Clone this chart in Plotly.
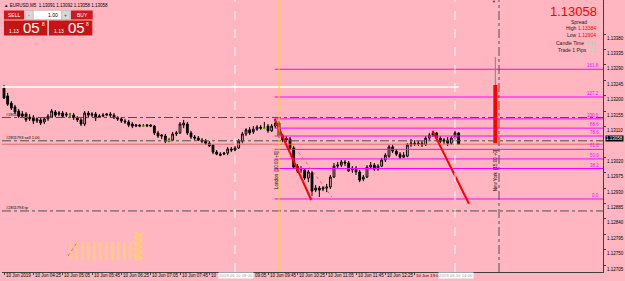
import plotly.graph_objects as go
import pandas as pd

# ---------------- data ----------------
times = pd.date_range("2019-06-10 03:45", periods=125, freq="5min")

opens = [1.13222,1.13199,1.13178,1.13167,1.13155,1.13140,1.13146,1.13132,1.13137,1.13126,
         1.13129,1.13123,1.13132,1.13137,1.13152,1.13146,1.13149,1.13143,1.13143,1.13143,
         1.13135,1.13129,1.13117,1.13149,1.13143,1.13146,1.13137,1.13140,1.13143,1.13146,
         1.13143,1.13135,1.13132,1.13126,1.13123,1.13117,1.13111,1.13114,1.13111,1.13111,
         1.13114,1.13111,1.13091,1.13085,1.13082,1.13070,1.13070,1.13088,1.13091,1.13114,
         1.13117,1.13091,1.13079,1.13076,1.13070,1.13067,1.13061,1.13056,1.13035,1.13029,
         1.13029,1.13032,1.13044,1.13041,1.13047,1.13067,1.13088,1.13100,1.13094,1.13102,
         1.13108,1.13105,1.13111,1.13097,1.13111,1.13120,1.13082,1.13070,1.13073,1.13047,
         1.12994,1.12983,1.12983,1.12959,1.12974,1.12924,1.12930,1.12927,1.12930,1.12933,
         1.12962,1.12994,1.12997,1.13006,1.13003,1.12983,1.12988,1.12977,1.12956,1.12962,
         1.12991,1.12997,1.12985,1.12994,1.13012,1.13023,1.13050,1.13038,1.13029,1.13020,
         1.13023,1.13056,1.13061,1.13058,1.13061,1.13056,1.13076,1.13085,1.13091,1.13076,
         1.13067,1.13070,1.13061,1.13076,1.13091]
highs = [1.13231,1.13208,1.13184,1.13173,1.13161,1.13155,1.13152,1.13146,1.13143,1.13137,
         1.13135,1.13137,1.13146,1.13161,1.13158,1.13155,1.13155,1.13152,1.13149,1.13149,
         1.13140,1.13135,1.13155,1.13155,1.13152,1.13152,1.13146,1.13149,1.13149,1.13152,
         1.13149,1.13140,1.13137,1.13132,1.13129,1.13123,1.13117,1.13117,1.13117,1.13117,
         1.13117,1.13114,1.13097,1.13088,1.13088,1.13076,1.13094,1.13097,1.13123,1.13129,
         1.13123,1.13097,1.13085,1.13082,1.13076,1.13073,1.13067,1.13058,1.13041,1.13035,
         1.13035,1.13050,1.13050,1.13053,1.13073,1.13094,1.13105,1.13108,1.13111,1.13114,
         1.13114,1.13123,1.13117,1.13117,1.13132,1.13126,1.13088,1.13082,1.13079,1.13053,
         1.13000,1.12994,1.12988,1.12983,1.12980,1.12939,1.12936,1.12936,1.12942,1.12968,
         1.13003,1.13006,1.13012,1.13012,1.13009,1.12994,1.12994,1.12983,1.12968,1.12997,
         1.13006,1.13003,1.13000,1.13018,1.13032,1.13056,1.13056,1.13044,1.13035,1.13035,
         1.13061,1.13073,1.13070,1.13067,1.13067,1.13082,1.13091,1.13097,1.13094,1.13082,
         1.13076,1.13079,1.13082,1.13097,1.13092]
lows = [1.13190,1.13170,1.13158,1.13146,1.13135,1.13135,1.13123,1.13126,1.13117,1.13120,
        1.13114,1.13117,1.13126,1.13135,1.13137,1.13140,1.13135,1.13137,1.13137,1.13129,
        1.13123,1.13111,1.13111,1.13137,1.13137,1.13126,1.13135,1.13137,1.13140,1.13137,
        1.13132,1.13126,1.13120,1.13117,1.13108,1.13105,1.13108,1.13108,1.13108,1.13108,
        1.13108,1.13085,1.13076,1.13073,1.13061,1.13064,1.13067,1.13082,1.13088,1.13105,
        1.13085,1.13073,1.13070,1.13067,1.13061,1.13056,1.13050,1.13029,1.13026,1.13023,
        1.13026,1.13026,1.13035,1.13038,1.13044,1.13061,1.13082,1.13085,1.13088,1.13097,
        1.13100,1.13102,1.13091,1.13094,1.13105,1.13076,1.13064,1.13064,1.13041,1.12985,
        1.12974,1.12974,1.12953,1.12947,1.12907,1.12918,1.12904,1.12921,1.12918,1.12927,
        1.12959,1.12988,1.12991,1.12994,1.12977,1.12974,1.12968,1.12947,1.12950,1.12959,
        1.12985,1.12980,1.12980,1.12991,1.13006,1.13018,1.13032,1.13023,1.13015,1.13018,
        1.13020,1.13050,1.13053,1.13053,1.13050,1.13053,1.13070,1.13079,1.13070,1.13061,
        1.13058,1.13053,1.13056,1.13070,1.13058]
closes = [1.13193,1.13175,1.13164,1.13152,1.13140,1.13146,1.13129,1.13137,1.13126,1.13132,
          1.13120,1.13132,1.13140,1.13155,1.13143,1.13149,1.13140,1.13146,1.13143,1.13135,
          1.13129,1.13117,1.13149,1.13143,1.13146,1.13135,1.13140,1.13143,1.13146,1.13143,
          1.13135,1.13132,1.13126,1.13123,1.13114,1.13111,1.13114,1.13111,1.13111,1.13114,
          1.13111,1.13091,1.13082,1.13082,1.13067,1.13070,1.13088,1.13091,1.13117,1.13120,
          1.13091,1.13079,1.13076,1.13070,1.13067,1.13061,1.13053,1.13035,1.13029,1.13026,
          1.13032,1.13044,1.13041,1.13047,1.13067,1.13088,1.13100,1.13091,1.13102,1.13108,
          1.13105,1.13105,1.13097,1.13111,1.13120,1.13082,1.13070,1.13076,1.13047,1.12991,
          1.12980,1.12985,1.12959,1.12977,1.12921,1.12930,1.12924,1.12930,1.12933,1.12962,
          1.12994,1.12997,1.13006,1.13003,1.12980,1.12988,1.12977,1.12953,1.12962,1.12991,
          1.12997,1.12985,1.12994,1.13012,1.13026,1.13050,1.13038,1.13029,1.13020,1.13026,
          1.13056,1.13061,1.13058,1.13061,1.13056,1.13076,1.13085,1.13091,1.13076,1.13067,
          1.13070,1.13061,1.13076,1.13091,1.13058]

fib_levels = [1.12898, 1.12987, 1.13015, 1.13043, 1.13082, 1.13105, 1.13132, 1.13196, 1.13277]
fib_labels = ["0.0", "38.2", "50.0", "61.8", "78.6", "88.6", "100.0", "127.2", "161.8"]
fib_start = "2019-06-10 09:54"

order_levels = [1.13136, 1.13068, 1.12863]
order_labels = ["#2811793 sl", "#2811793 sell 1.00", "#2811793 tp"]

white_level = 1.13225
white_end = "2019-06-10 14:05"
bid = 1.13058

trend1_x = ["2019-06-10 09:54", "2019-06-10 10:44"]
trend1_y = [1.13132, 1.12895]
trend_dot_x = ["2019-06-10 10:12", "2019-06-10 11:12"]
trend_dot_y = [1.13076, 1.12904]
trend2_x = ["2019-06-10 13:29:30", "2019-06-10 14:19"]
trend2_y = [1.13097, 1.12884]

daybar_x = "2019-06-10 14:55"
daybar_body = [1.13061, 1.13231]
daybar_wick = [1.13231, 1.13313]

# time-axis labels (left-aligned at their tick, as the terminal draws them);
# labels partly covered by the highlighted time boxes keep only their visible part
xtick_times = pd.date_range("2019-06-10 03:45", periods=16, freq="40min")
xlabel_times = ["2019-06-10 03:45", "2019-06-10 04:25", "2019-06-10 05:05", "2019-06-10 05:45",
                "2019-06-10 06:25", "2019-06-10 07:05", "2019-06-10 07:45", "2019-06-10 08:25",
                "2019-06-10 09:25", "2019-06-10 09:45", "2019-06-10 10:25", "2019-06-10 11:05",
                "2019-06-10 11:45", "2019-06-10 12:25", "2019-06-10 13:05"]
xlabel_text = ["10 Jun 2019", "10 Jun 04:25", "10 Jun 05:05", "10 Jun 05:45", "10 Jun 06:25",
               "10 Jun 07:05", "10 Jun 07:45", "10", "09:05", "10 Jun 09:45", "10 Jun 10:25",
               "10 Jun 11:05", "10 Jun 11:45", "10 Jun 12:25", "10 Jun 13:0"]

ytick_vals = [1.12705, 1.12750, 1.12795, 1.12840, 1.12885, 1.12930, 1.12975, 1.13020,
              1.13110, 1.13155, 1.13200, 1.13245, 1.13290, 1.13335, 1.13380]

x_range = ["2019-06-10 03:42:16", "2019-06-10 17:21:49"]
y_range = [1.126846, 1.134794]

BG = "#FFB6C1"
FONT = "Liberation Sans"

# -------------- helpers for layout positions (pixels -> paper) --------------
def PX(x):
    return (x - 2) / 601.0

def PY(y):
    return 1 - y / 272.0

fig = go.Figure()

# vertical session lines
fig.add_vline(x="2019-06-10 09:00", line=dict(color="white", width=1, dash="dash"))
fig.add_vline(x="2019-06-10 14:00", line=dict(color="white", width=1, dash="dash"))
fig.add_vline(x="2019-06-10 10:00", line=dict(color="#FFD700", width=1))
fig.add_vline(x="2019-06-10 15:00", line=dict(color="#505050", width=1, dash="dashdot"))

# horizontal: white line
fig.add_trace(go.Scatter(x=[x_range[0], white_end], y=[white_level, white_level], mode="lines",
                         line=dict(color="white", width=1.5), hoverinfo="skip"))
# fib levels
for lv in fib_levels:
    fig.add_trace(go.Scatter(x=[fib_start, x_range[1]], y=[lv, lv], mode="lines",
                             line=dict(color="#FF00FF", width=1), hoverinfo="skip"))
# order lines
for lv in order_levels:
    fig.add_trace(go.Scatter(x=x_range, y=[lv, lv], mode="lines",
                             line=dict(color="#505050", width=1, dash="dashdot"), hoverinfo="skip"))
# bid line
fig.add_trace(go.Scatter(x=x_range, y=[bid, bid], mode="lines",
                         line=dict(color="#E06A6A", width=1), hoverinfo="skip"))

# candles
fig.add_trace(go.Candlestick(
    x=times, open=opens, high=highs, low=lows, close=closes,
    increasing=dict(line=dict(color="black", width=1), fillcolor=BG),
    decreasing=dict(line=dict(color="black", width=1), fillcolor="black"),
    whiskerwidth=0, hoverinfo="skip"))

doji_x = [t for t, o, c in zip(times, opens, closes) if o == c]
doji_y = [c for o, c in zip(opens, closes) if o == c]
fig.add_trace(go.Scatter(x=doji_x, y=doji_y, mode="markers",
                         marker=dict(symbol="line-ew", size=3, line=dict(color="#7CFC00", width=1)),
                         hoverinfo="skip"))

# trend lines
fig.add_trace(go.Scatter(x=trend1_x, y=trend1_y, mode="lines", line=dict(color="#FF0000", width=2), hoverinfo="skip"))
fig.add_trace(go.Scatter(x=trend_dot_x, y=trend_dot_y, mode="lines", line=dict(color="#F06060", width=1, dash="dot"), hoverinfo="skip"))
fig.add_trace(go.Scatter(x=trend2_x, y=trend2_y, mode="lines", line=dict(color="#FF0000", width=2), hoverinfo="skip"))

# daily bar on the right
fig.add_trace(go.Scatter(x=[daybar_x, daybar_x], y=daybar_wick, mode="lines", line=dict(color="#808080", width=1), hoverinfo="skip"))
fig.add_trace(go.Scatter(x=[daybar_x, daybar_x], y=daybar_body, mode="lines", line=dict(color="#FF0000", width=4), hoverinfo="skip"))

shapes = []
annotations = []

# left gray border
shapes.append(dict(type="rect", xref="paper", yref="paper", x0=PX(0), x1=PX(2), y0=PY(281), y1=PY(0),
                   fillcolor="#8C8C8C", line=dict(width=0), layer="above"))

# bottom-left yellow dotted box
for yy in range(237, 261, 2):
    shapes.append(dict(type="line", xref="paper", yref="paper", x0=PX(69), x1=PX(136), y0=PY(yy), y1=PY(yy),
                       line=dict(color="#FFE23A", width=1, dash="dot")))
shapes.append(dict(type="rect", xref="paper", yref="paper", x0=PX(135), x1=PX(141), y0=PY(260), y1=PY(233),
                   fillcolor="rgba(255,226,58,0.35)", line=dict(color="#FFE23A", width=1, dash="dot")))
shapes.append(dict(type="line", xref="paper", yref="paper", x0=PX(68), x1=PX(78), y0=PY(256), y1=PY(241),
                   line=dict(color="#FF6070", width=1, dash="dot")))

# trading panel
red = "#D01A1A"
shapes.append(dict(type="rect", xref="paper", yref="paper", x0=PX(4), x1=PX(24), y0=PY(19.5), y1=PY(10.5),
                   fillcolor=red, line=dict(width=0), layer="above"))
shapes.append(dict(type="rect", xref="paper", yref="paper", x0=PX(25), x1=PX(33.3), y0=PY(19.5), y1=PY(10.5),
                   fillcolor="#D8D8D8", line=dict(color="#B0B0B0", width=0.5), layer="above"))
shapes.append(dict(type="rect", xref="paper", yref="paper", x0=PX(33.3), x1=PX(61.7), y0=PY(19.5), y1=PY(10.5),
                   fillcolor="white", line=dict(color="#B0B0B0", width=0.5), layer="above"))
shapes.append(dict(type="rect", xref="paper", yref="paper", x0=PX(61.7), x1=PX(70), y0=PY(19.5), y1=PY(10.5),
                   fillcolor="#D8D8D8", line=dict(color="#B0B0B0", width=0.5), layer="above"))
shapes.append(dict(type="rect", xref="paper", yref="paper", x0=PX(71), x1=PX(92.7), y0=PY(19.5), y1=PY(10.5),
                   fillcolor=red, line=dict(width=0), layer="above"))
for x0, x1 in [(4, 47.3), (49, 92.3)]:
    shapes.append(dict(type="rect", xref="paper", yref="paper", x0=PX(x0), x1=PX(x1), y0=PY(35.5), y1=PY(20.5),
                       fillcolor="#C41414", line=dict(width=0), layer="above"))

def txt(x, y, s, size, color="black", xanchor="left", yanchor="middle", bg=None, xref="paper", yref="paper", **kw):
    d = dict(x=x, y=y, xref=xref, yref=yref, text=s, showarrow=False, xanchor=xanchor, yanchor=yanchor,
             font=dict(family=FONT, size=size, color=color), borderpad=0)
    if bg:
        d["bgcolor"] = bg
    d.update(kw)
    annotations.append(d)

txt(PX(3), PY(5), "▲ EURUSD,M5  1.13091 1.13092 1.13058 1.13058", 4.5)
txt(PX(14), PY(15), "SELL", 5, "white", xanchor="center")
txt(PX(29.2), PY(15), "-", 5, "#404040", xanchor="center")
txt(PX(59), PY(15), "1.00", 5, "black", xanchor="right")
txt(PX(65.8), PY(15), "+", 5, "#404040", xanchor="center")
txt(PX(82), PY(15), "BUY", 5, "white", xanchor="center")
for bx in [4, 49]:
    txt(PX(bx + 4), PY(30.5), "1.13", 5, "white")
    txt(PX(bx + 18), PY(28), "05", 15, "white")
    txt(PX(bx + 36.5), PY(23.5), "8", 5, "white")

# top right info
txt(PX(598), PY(12), "1.13058", 13, "#FF0000", xanchor="right")
info = [("Spread", "0.0", "#8FE0B0", 21.5), ("High", "1.13384", "#FF0000", 28.5), ("Low", "1.12904", "#FF0000", 35.5),
        ("Candle Time", "0:45", "#8FE0B0", 42.5), ("Trade 1 Pips", "1.2", "#8FE0B0", 49.5)]
for lab, val, col, yy in info:
    w = len(val) * 2.4
    txt(PX(597 - w - 2), PY(yy), lab, 5, "#202020", xanchor="right")
    txt(PX(597), PY(yy), val, 5, col, xanchor="right")
txt(PX(494), PY(1.5), "▼", 4, "#A00000", xanchor="center")

# fib labels
for lv, lab in zip(fib_levels, fib_labels):
    txt(PX(600), lv, lab, 4.5, "#FF00FF", xanchor="right", yanchor="bottom", yref="y")
# order labels
for lv, lab in zip(order_levels, order_labels):
    txt(PX(5), lv, lab, 4, "black", xanchor="left", yanchor="bottom", yref="y")

# session names
txt("2019-06-10 09:56", PY(170), "London  [10:00 +0]", 4.5, "black", xanchor="center", xref="x", textangle=-90)
txt("2019-06-10 14:55", PY(170), "New York  [15:00 +0]", 4.5, "black", xanchor="center", xref="x", textangle=-90)

# x labels
for t, s in zip(xlabel_times, xlabel_text):
    if s == "09:05":
        txt(PX(254), PY(275.5), s, 4.5, "black", xanchor="left")
    else:
        txt(t, PY(275.5), s, 4.3 if s == "10 Jun 13:0" else 4.5, "black", xanchor="left", xref="x", xshift=0.5)
# highlighted time boxes
for t, s in [("2019-06-10 09:00", "2019.06.10 09:00"), ("2019-06-10 14:00", "2019.06.10 14:00")]:
    txt(t, PY(275.5), s, 4.3, "#A0A0A0", xanchor="center", xref="x", bg="white", xshift=1)
# current price box
txt(PX(614.5), bid, "1.13058", 4.5, "white", xanchor="center", yref="y", bg="black", yshift=6)

fig.update_layout(
    width=625, height=281, margin=dict(l=2, r=22, t=0, b=9),
    paper_bgcolor=BG, plot_bgcolor=BG, showlegend=False,
    shapes=shapes, annotations=annotations,
    xaxis=dict(type="date", range=x_range, rangeslider=dict(visible=False), showgrid=False, zeroline=False,
               showline=True, linecolor="#404040", linewidth=1, tickvals=list(xtick_times), ticks="outside",
               ticklen=2, tickcolor="#404040", showticklabels=False),
    yaxis=dict(range=y_range, side="right", showgrid=False, zeroline=False, showline=True,
               linecolor="#404040", linewidth=1, tickvals=ytick_vals,
               ticktext=[f"{v:.5f}" for v in ytick_vals], ticks="outside", ticklen=2, tickcolor="#404040",
               tickfont=dict(family=FONT, size=4.5, color="black"), ticklabelshift=4),
)

fig.write_html("out.html")
